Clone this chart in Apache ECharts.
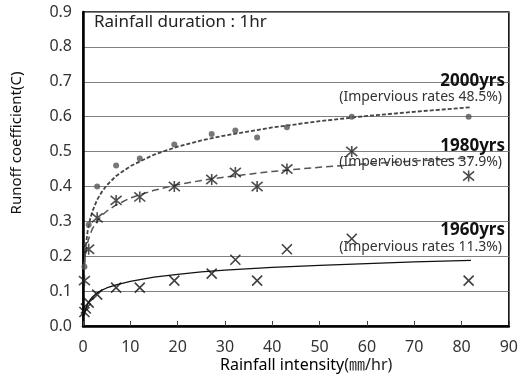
<!DOCTYPE html>
<html><head><meta charset="utf-8">
<script src="https://cdn.jsdelivr.net/npm/echarts@6/dist/echarts.min.js"></script>
<style>html,body{margin:0;padding:0;background:#fff}#c{width:521px;height:380px}</style>
</head><body><div id="c"></div>
<script>
// Observed data (rainfall intensity mm/hr vs runoff coefficient)
const intensity = [0.3, 1.2, 3.0, 7.0, 12, 19.3, 27.2, 32.2, 36.8, 43.1, 56.8, 81.5];
const c2000 = [0.17, 0.29, 0.40, 0.46, 0.48, 0.52, 0.55, 0.56, 0.54, 0.57, 0.60, 0.60];
const c1980 = [0.13, 0.22, 0.31, 0.36, 0.37, 0.40, 0.42, 0.44, 0.40, 0.45, 0.50, 0.43];
const c1960 = [0.04, 0.067, 0.09, 0.11, 0.11, 0.13, 0.15, 0.19, 0.13, 0.22, 0.25, 0.13];
const c1960b = [[0.6, 0.05]];
// Trend curves
const trendX = [0.3, 0.5, 1, 1.5, 2, 3, 4, 5, 7, 10, 15, 20, 25, 30, 40, 50, 60, 70, 82];
const trend2000 = [0.178, 0.219, 0.274, 0.306, 0.329, 0.362, 0.385, 0.403, 0.430, 0.458, 0.491, 0.514, 0.532, 0.546, 0.569, 0.587, 0.602, 0.614, 0.627];
const trend1980 = [0.175, 0.203, 0.241, 0.263, 0.279, 0.301, 0.317, 0.329, 0.347, 0.367, 0.389, 0.405, 0.417, 0.427, 0.443, 0.455, 0.465, 0.473, 0.482];
const trend1960 = [0.030, 0.045, 0.064, 0.075, 0.083, 0.095, 0.103, 0.109, 0.118, 0.128, 0.140, 0.148, 0.155, 0.160, 0.168, 0.174, 0.179, 0.184, 0.188];
// Texts
const titleText = 'Rainfall duration : 1hr';
const seriesNames = ['2000yrs', '1980yrs', '1960yrs'];
const rateTexts = ['(Impervious rates 48.5%)', '(Impervious rates 37.9%)', '(Impervious rates 11.3%)'];
const xTitleMain = 'Rainfall intensity';
const xTitleUnit = '(㎜/hr)';
const yTitle = 'Runoff coefficient(C)';

const FONT = '"Noto Sans", "Noto Sans CJK KR", sans-serif';
const pair = (xs, ys) => xs.map((x, i) => [x, ys[i]]);
const XMARK = 'path://M0,0L10,10M10,0L0,10';
const STAR = 'path://M0,0L10,10M10,0L0,10M5,-1L5,11';

const chart = echarts.init(document.getElementById('c'), null, {renderer: 'canvas'});
chart.setOption({
  animation: false,
  backgroundColor: '#fff',
  grid: {left: 83, right: 6, top: 12, bottom: 54, show: true, borderColor: '#000', borderWidth: 1.5, backgroundColor: 'transparent'},
  xAxis: {
    type: 'value', min: 0, max: 90, interval: 10,
    axisLine: {show: true, onZero: false, lineStyle: {color: '#000', width: 2.5}},
    axisTick: {show: true, inside: true, length: 5, lineStyle: {color: '#444'}},
    axisLabel: {color: '#333', fontSize: 16, fontFamily: FONT, margin: 13},
    splitLine: {show: false}
  },
  yAxis: {
    type: 'value', min: 0, max: 0.9, interval: 0.1,
    axisLine: {show: true, onZero: false, lineStyle: {color: '#000', width: 2.5}},
    axisTick: {show: false},
    axisLabel: {color: '#333', fontSize: 16, fontFamily: FONT, margin: 11, formatter: v => v.toFixed(1)},
    splitLine: {show: true, lineStyle: {color: '#808080', width: 1}}
  },
  series: [
    {type: 'line', data: pair(trendX, trend2000), showSymbol: false, smooth: false,
     lineStyle: {color: '#444', width: 1.8, type: [4, 2]}, z: 3},
    {type: 'line', data: pair(trendX, trend1980), showSymbol: false, smooth: false,
     lineStyle: {color: '#555', width: 1.5, type: [7, 4]}, z: 3},
    {type: 'line', data: pair(trendX, trend1960), showSymbol: false, smooth: false,
     lineStyle: {color: '#111', width: 1.3}, z: 3},
    {type: 'scatter', name: seriesNames[0], data: pair(intensity, c2000), symbol: 'circle', symbolSize: 6,
     itemStyle: {color: '#555'}, z: 4},
    {type: 'scatter', name: seriesNames[1], data: pair(intensity, c1980), symbol: STAR, symbolSize: 11,
     itemStyle: {color: 'none', borderColor: '#222', borderWidth: 1.6}, z: 4},
    {type: 'scatter', name: seriesNames[2], data: pair(intensity, c1960).concat(c1960b), symbol: XMARK, symbolSize: 10,
     itemStyle: {color: 'none', borderColor: '#111', borderWidth: 1.6}, z: 4}
  ],
  graphic: [
    {type: 'text', left: 94, top: 14, z: 10, style: {text: titleText, font: '17px ' + FONT, fill: '#222'}},
    {type: 'text', right: 16, top: 73, z: 10, style: {text: seriesNames[0], font: 'bold 17px ' + FONT, fill: '#111'}},
    {type: 'text', right: 19, top: 90, z: 10, style: {text: rateTexts[0], font: '14px ' + FONT, fill: '#333'}},
    {type: 'text', right: 16, top: 138, z: 10, style: {text: seriesNames[1], font: 'bold 17px ' + FONT, fill: '#111'}},
    {type: 'text', right: 19, top: 155, z: 10, style: {text: rateTexts[1], font: '14px ' + FONT, fill: '#333'}},
    {type: 'text', right: 16, top: 222, z: 10, style: {text: seriesNames[2], font: 'bold 17px ' + FONT, fill: '#111'}},
    {type: 'text', right: 19, top: 240, z: 10, style: {text: rateTexts[2], font: '14px ' + FONT, fill: '#333'}},
    {type: 'text', left: 220, top: 357, z: 10, style: {
      text: '{m|' + xTitleMain + '}{u|' + xTitleUnit + '}',
      rich: {m: {font: '16px ' + FONT, fill: '#000'}, u: {font: '16px ' + FONT, fill: '#222'}}}},
    {type: 'text', x: 17, y: 143, rotation: Math.PI / 2, z: 10,
     style: {text: yTitle, font: '15px ' + FONT, fill: '#111', align: 'center', verticalAlign: 'middle'}}
  ]
});
</script></body></html>
